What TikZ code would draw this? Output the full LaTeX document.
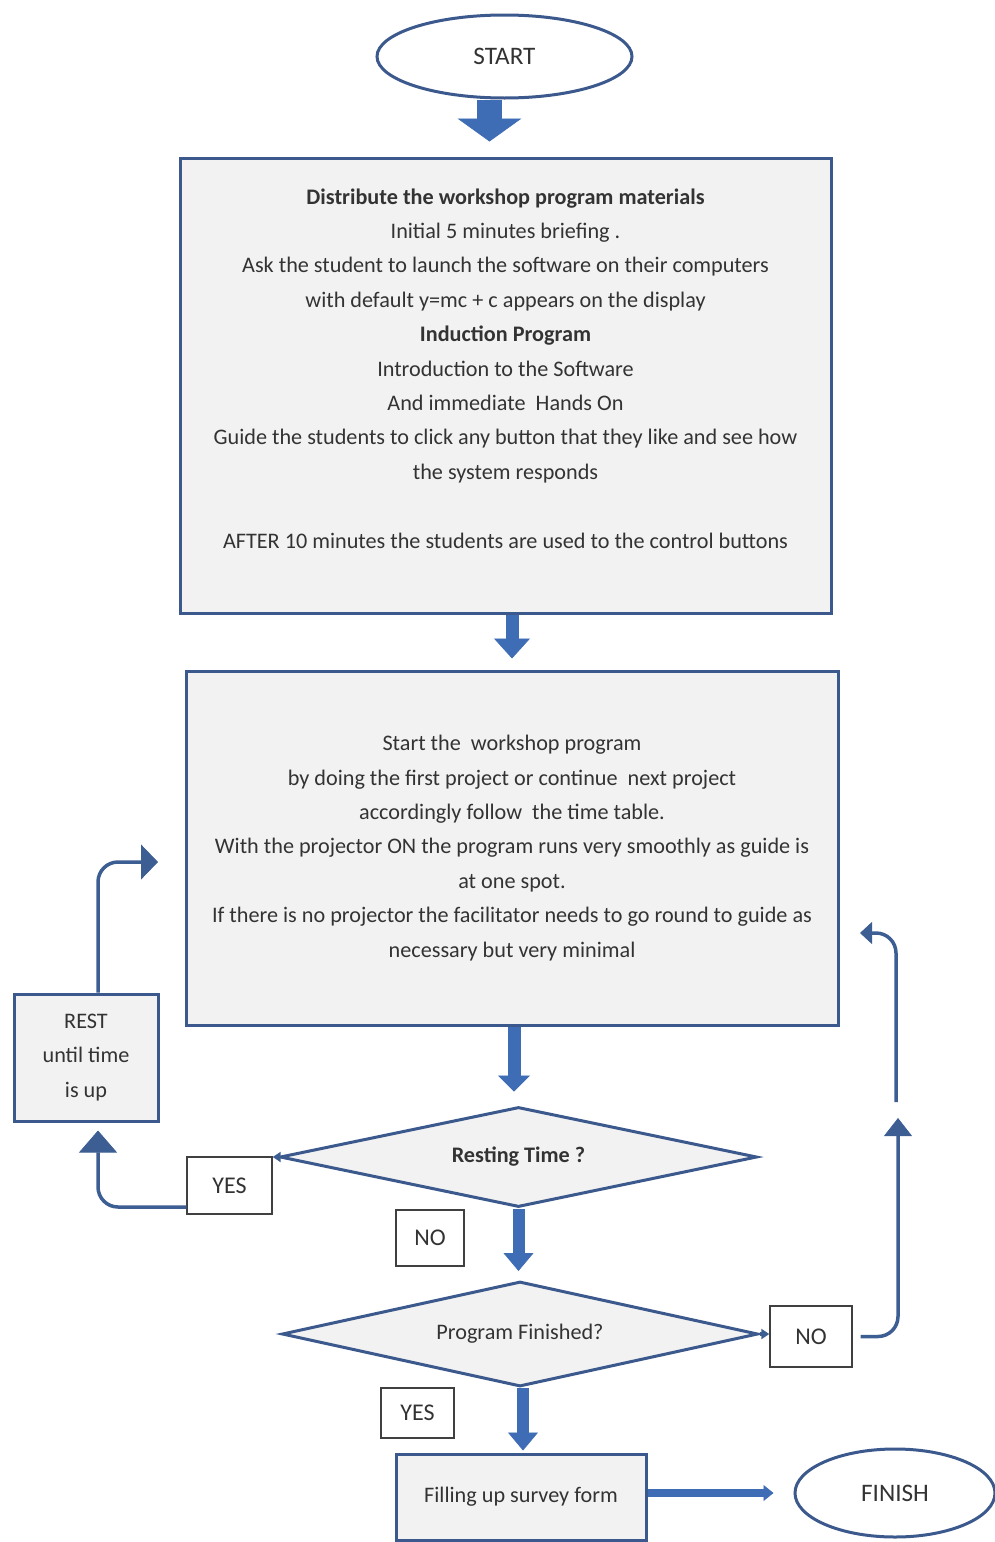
\documentclass[tikz,border=0pt]{standalone}
\usepackage{fontspec}
\setmainfont{Carlito}
\usetikzlibrary{shapes.geometric,arrows.meta}

\definecolor{boxblue}{HTML}{3B598C}
\definecolor{arrowblue}{HTML}{3F6DB5}
\definecolor{linkblue}{HTML}{3D5E93}
\definecolor{boxgray}{HTML}{F2F2F2}
\definecolor{txtgray}{HTML}{333333}

\tikzset{
  procbox/.style={draw=boxblue, line width=1.5pt, fill=boxgray, align=center,
    inner sep=0pt, text=txtgray, font=\fontsize{11.1}{17.2}\selectfont},
  termnode/.style={ellipse, draw=boxblue, line width=1.5pt, fill=white,
    inner sep=0pt, text=txtgray, font=\fontsize{12.6}{14}\selectfont},
  decision/.style={diamond, draw=boxblue, line width=1.5pt, fill=boxgray,
    inner sep=0pt, text=txtgray, font=\fontsize{11.1}{13}\selectfont},
  tagbox/.style={draw=black!75, line width=0.7pt, fill=white, inner sep=0pt,
    text=txtgray, font=\fontsize{12}{14}\selectfont},
  blockarrow/.style n args={3}{draw=arrowblue, line width=#1,
    -{Triangle[width=#2, length=#3, line width=0.4pt]}},
  linkline/.style={draw=linkblue, line width=1.75pt, rounded corners=10pt}
}

\begin{document}
\begin{tikzpicture}[x=0.5pt, y=-0.5pt]
    \useasboundingbox (0,0) rectangle (995,1542);

    \node[termnode, minimum width=127.5pt, minimum height=41.5pt] (start) at (504.5,56.5) {START};

    \node[procbox, minimum width=325.5pt, minimum height=227.5pt] (prep) at (505.5,385.5)
        {\textbf{Distribute the workshop program materials}\\
         Initial 5 minutes briefing .\\
         Ask the student to launch the software on their computers\\
         with default y=mc + c appears on the display\\
         \textbf{Induction Program}\\
         Introduction to the Software\\
         And immediate\ \ Hands On\\
         Guide the students to click any button that they like and see how\\
         the system responds\\
         \mbox{}\\
         AFTER 10 minutes the students are used to the control buttons\\
         \mbox{}};

    \node[procbox, minimum width=326pt, minimum height=177pt] (work) at (512,848)
        {Start the\ \ workshop program\\
         by doing the first project or continue\ \ next project\\
         accordingly follow\ \ the time table.\\
         With the projector ON the program runs very smoothly as guide is\\
         at one spot.\\
         If there is no projector the facilitator needs to go round to guide as\\
         necessary but very minimal};

    \node[procbox, minimum width=72pt, minimum height=63.5pt] (rest) at (86,1057.5)
        {REST\\ until time\\ is up};

    \node[decision, aspect=4.77, minimum width=238.5pt, minimum height=50pt] (rest time) at (518.5,1157)
        {\textbf{Resting Time ?}};
    \node[decision, aspect=4.53, minimum width=238pt, minimum height=52.5pt] (finished) at (520,1334)
        {Program Finished?};

    \node[tagbox, minimum width=42.5pt, minimum height=28.5pt] (yes rest) at (229.5,1185.5) {YES};
    \node[tagbox, minimum width=34pt, minimum height=28pt] (no rest) at (430,1238) {NO};
    \node[tagbox, minimum width=41pt, minimum height=30.5pt] (no end) at (811,1336.5) {NO};
    \node[tagbox, minimum width=36.5pt, minimum height=25pt] (yes end) at (417.5,1413) {YES};

    \node[procbox, minimum width=125pt, minimum height=43pt] (survey) at (521,1497)
        {Filling up survey form};
    \node[termnode, minimum width=100pt, minimum height=44pt] (finish) at (895,1493) {FINISH};

    \coordinate (back left) at (158,862);
    \coordinate (up tip) at (898,1118);
    \coordinate (up again) at (896,1102);
    \coordinate (back right) at (860,933);

    \draw[blockarrow={12.5pt}{32pt}{11.5pt}, shorten >=7.5pt]
        ([xshift=-7.5pt]start.south) -- ([xshift=-7.5pt]start.south |- prep.north);
    \draw[blockarrow={6.5pt}{18pt}{10pt}, shorten >=5.5pt]
        (work.north |- prep.south) -- (work.north);
    \draw[blockarrow={6.5pt}{16pt}{8pt}, shorten >=7pt]
        ([xshift=1pt]work.south) -- ([xshift=1pt]work.south |- rest time.north);
    \draw[blockarrow={6pt}{15pt}{9pt}, shorten >=4.5pt]
        (rest time.south) -- (rest time.south |- finished.north);
    \draw[blockarrow={6pt}{15pt}{9pt}, shorten >=1pt]
        ([xshift=1.5pt]finished.south) -- ([xshift=1.5pt]finished.south |- survey.north);
    \draw[blockarrow={4pt}{8pt}{5pt}, shorten >=10pt]
        (finish.west -| survey.east) -- (finish.west);

    \draw[linkline, -{Triangle[width=5pt, length=4pt]}] (rest time.west) -- (rest time.west -| yes rest.east);
    \draw[linkline, -{Triangle[width=5pt, length=4pt]}] (finished.east) -- (finished.east -| no end.west);

    \draw[linkline, shorten >=4pt, -{Triangle[width=19pt, length=11pt, line width=0.4pt]}]
        ([yshift=-10.75pt]yes rest.west) -| ([xshift=6pt]rest.south);
    \draw[linkline, -{Triangle[width=17.5pt, length=8.5pt, line width=0.4pt]}]
        ([xshift=6pt]rest.north) |- (back left);
    \draw[linkline, shorten <=4pt, -{Triangle[width=14pt, length=9pt, line width=0.4pt]}]
        (no end.east) -| (up tip);
    \draw[linkline, -{Triangle[width=11pt, length=6pt, line width=0.4pt]}]
        (up again) |- (back right);
\end{tikzpicture}
\end{document}
